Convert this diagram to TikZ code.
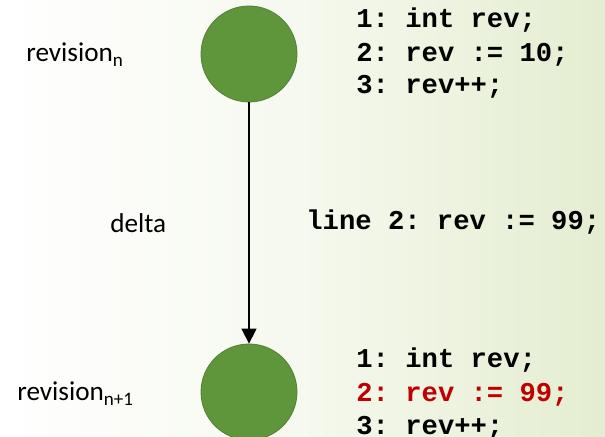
\documentclass[tikz,border=0pt]{standalone}
\usepackage{fontspec}
\setmainfont{Carlito}
\newfontfamily\codefont{Liberation Mono}
\usetikzlibrary{arrows.meta}
\frenchspacing
\definecolor{revgreen}{RGB}{95,150,60}
\definecolor{revedge}{RGB}{82,128,52}
\definecolor{bggreen}{RGB}{228,237,208}
\definecolor{codered}{RGB}{192,0,0}
\begin{document}
\begin{tikzpicture}[x=0.5pt,y=-0.5pt,line cap=butt,line join=miter,>={Triangle[width=7.5pt,length=7.5pt]}]
	\tikzset{rev/.style={circle,fill=revgreen,draw=revedge,line width=0.4pt,minimum size=48pt,inner sep=0pt},
		code/.style={anchor=base west,inner sep=0pt,font=\codefont\bfseries\fontsize{13.6}{16}\selectfont},
		lbl/.style={anchor=base west,inner sep=0pt,font=\fontsize{13.6}{16}\selectfont}}
	\useasboundingbox (0,0) rectangle (605,437);
	\clip (0,0) rectangle (605,437);
	\shade[left color=white,right color=bggreen,middle color=bggreen!35!white] (0,0) rectangle (605,437);
	%--------- Revisionen
	\node[rev] (revN) at (249,54) {};
	\node[rev] (revM) at (249,392) {};
	\draw[->,line width=0.75pt] (revN) -- (revM);
	\node[lbl] (labN) at (26,62) {revision\textsubscript{n}};
	\node[lbl] (labD) at (110,233) {delta};
	\node[lbl] (labM) at (17,401) {revision\textsubscript{n+1}};
	%--------- Code
	\node[code] (codeN1) at (356,28) {1: int rev;};
	\node[code] (codeN2) at (356,62) {2: rev := 10;};
	\node[code] (codeN3) at (356,94) {3: rev++;};
	\node[code] (codeD) at (306,230) {line 2: rev := 99;};
	\node[code] (codeM1) at (356,368) {1: int rev;};
	\node[code,codered] (codeM2) at (356,402) {2: rev := 99;};
	\node[code] (codeM3) at (356,435) {3: rev++;};
\end{tikzpicture}
\end{document}
